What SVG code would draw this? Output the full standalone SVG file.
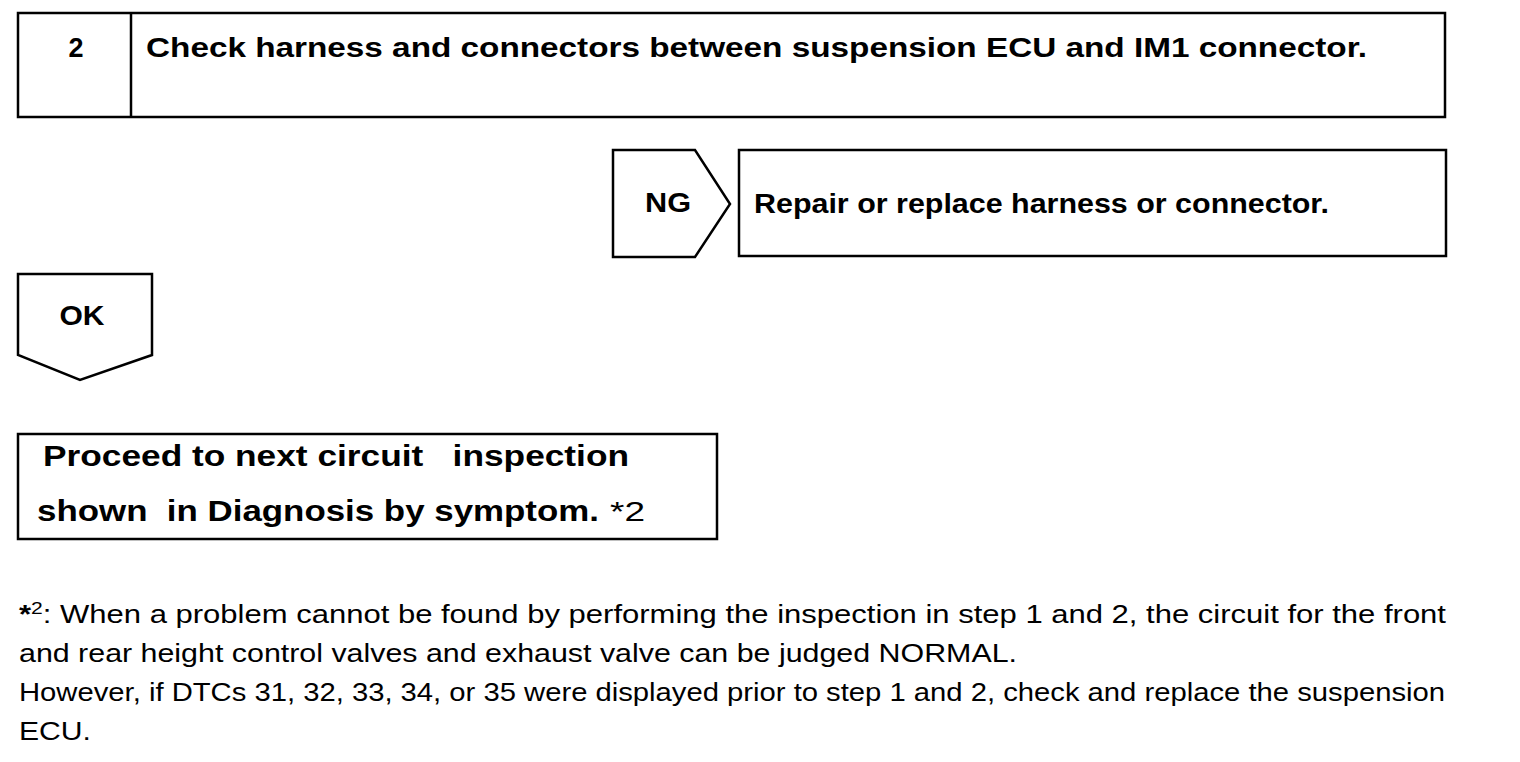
<svg xmlns="http://www.w3.org/2000/svg" width="1520" height="762" viewBox="0 0 1520 762">
<style>
.box{fill:#fff;stroke:#000;stroke-width:2.5}
.b{font-family:"Liberation Sans",Arial,sans-serif;font-weight:bold;fill:#000}
.n{font-family:"Liberation Sans",Arial,sans-serif;fill:#000}
</style>
<rect width="1520" height="762" fill="#fff"/>
<g id="step2">
<rect class="box" x="18" y="13" width="1427" height="104"/>
<line x1="131" y1="13" x2="131" y2="117" stroke="#000" stroke-width="2.5"/>
<text class="b" x="76" y="57" font-size="27" text-anchor="middle">2</text>
<text class="b" x="146" y="57" font-size="28" textLength="1221" lengthAdjust="spacingAndGlyphs">Check harness and connectors between suspension ECU and IM1 connector.</text>
</g>
<g id="connectors">
<g id="ng">
<polygon class="box" points="613,150 695,150 730,204 695,257 613,257"/>
<text class="b" x="668" y="212" font-size="27" text-anchor="middle" textLength="46" lengthAdjust="spacingAndGlyphs">NG</text>
</g>
<g id="ok">
<polygon class="box" points="18,274 152,274 152,355 80,380 18,355"/>
<text class="b" x="82" y="325" font-size="27" text-anchor="middle" textLength="45" lengthAdjust="spacingAndGlyphs">OK</text>
</g>
</g>
<g id="repair">
<rect class="box" x="739" y="150" width="707" height="106"/>
<text class="b" x="754" y="213" font-size="27" textLength="575" lengthAdjust="spacingAndGlyphs">Repair or replace harness or connector.</text>
</g>
<g id="proceed">
<rect class="box" x="18" y="434" width="699" height="105"/>
<text class="b" x="43" y="466" font-size="30" textLength="586" lengthAdjust="spacingAndGlyphs" xml:space="preserve">Proceed to next circuit   inspection</text>
<text class="b" x="37" y="521" font-size="30" textLength="562" lengthAdjust="spacingAndGlyphs" xml:space="preserve">shown  in Diagnosis by symptom.</text>
<text class="n" x="610" y="521" font-size="28" textLength="35" lengthAdjust="spacingAndGlyphs">*2</text>
</g>
<g id="note" class="n" font-size="25">
<text x="19" y="623" textLength="1427" lengthAdjust="spacingAndGlyphs"><tspan font-weight="bold">*</tspan><tspan font-size="17" dy="-9">2</tspan><tspan dy="9">: When a problem cannot be found by performing the inspection in step 1 and 2, the circuit for the front</tspan></text>
<text x="19" y="662" textLength="998" lengthAdjust="spacingAndGlyphs">and rear height control valves and exhaust valve can be judged NORMAL.</text>
<text x="19" y="701" textLength="1426" lengthAdjust="spacingAndGlyphs">However, if DTCs 31, 32, 33, 34, or 35 were displayed prior to step 1 and 2, check and replace the suspension</text>
<text x="19" y="740" textLength="72" lengthAdjust="spacingAndGlyphs">ECU.</text>
</g>
</svg>
